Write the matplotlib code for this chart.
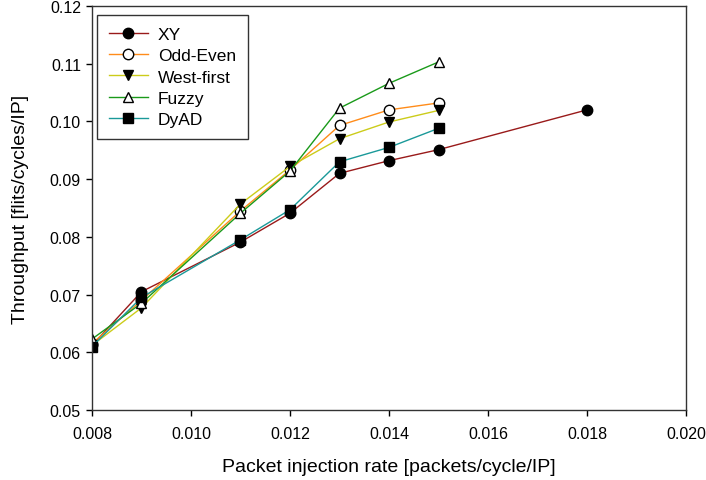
import matplotlib
matplotlib.use('Agg')
import matplotlib.pyplot as plt

plt.rcParams['font.family'] = ['Liberation Sans', 'DejaVu Sans']

# injection rates (XY has one extra point)
rates = [0.008, 0.009, 0.011, 0.012, 0.013, 0.014, 0.015]
rates_xy = [0.008, 0.009, 0.011, 0.012, 0.013, 0.014, 0.015, 0.018]

xy = [0.0612, 0.0705, 0.0791, 0.0841, 0.0910, 0.0932, 0.0951, 0.1020]
odd_even = [0.0615, 0.0690, 0.0845, 0.0916, 0.0993, 0.1020, 0.1032]
west_first = [0.0612, 0.0677, 0.0857, 0.0922, 0.0970, 0.0999, 0.1019]
fuzzy = [0.0623, 0.0685, 0.0841, 0.0914, 0.1023, 0.1066, 0.1103]
dyad = [0.0610, 0.0695, 0.0795, 0.0847, 0.0930, 0.0955, 0.0988]

fig = plt.figure(figsize=(7.06, 4.81), dpi=100)
ax = fig.add_axes([0.1303, 0.1455, 0.8414, 0.84])

ax.plot(rates_xy, xy, color='#991a1a', lw=1, marker='o', ms=7.5, mfc='black', mec='black', label='XY')
ax.plot(rates, odd_even, color='#ff8c1a', lw=1, marker='o', ms=7.5, mfc='white', mec='black', label='Odd-Even')
ax.plot(rates, west_first, color='#cccc1a', lw=1, marker='v', ms=7.5, mfc='black', mec='black', label='West-first')
ax.plot(rates, fuzzy, color='#1a9a1a', lw=1, marker='^', ms=7.5, mfc='white', mec='black', label='Fuzzy')
ax.plot(rates, dyad, color='#1a9999', lw=1, marker='s', ms=7, mfc='black', mec='black', label='DyAD')

ax.set_xlim(0.008, 0.020)
ax.set_ylim(0.05, 0.12)
ax.set_xticks([0.008, 0.010, 0.012, 0.014, 0.016, 0.018, 0.020])
ax.set_xticklabels(['0.008', '0.010', '0.012', '0.014', '0.016', '0.018', '0.020'])
ax.set_yticks([0.05, 0.06, 0.07, 0.08, 0.09, 0.10, 0.11, 0.12])
ax.set_yticklabels(['0.05', '0.06', '0.07', '0.08', '0.09', '0.10', '0.11', '0.12'])
ax.tick_params(direction='out', length=4.5, width=1, labelsize=11.5, top=False, right=False)
ax.tick_params(axis='x', pad=7)
for s in ax.spines.values():
    s.set_color('#333333')
    s.set_linewidth(1)
ax.set_xlabel('Packet injection rate [packets/cycle/IP]', fontsize=14, labelpad=12)
ax.set_ylabel('Throughput [flits/cycles/IP]', fontsize=14, labelpad=15)

leg = ax.legend(loc='upper left', bbox_to_anchor=(0.0084, 0.9777), borderaxespad=0,
                fontsize=12.5, frameon=True, fancybox=False, edgecolor='#333333',
                handlelength=2.25, handletextpad=0.58, labelspacing=0.36, borderpad=0.67,
                framealpha=1)
leg.get_frame().set_linewidth(1)

fig.savefig('out.png', dpi=100)
